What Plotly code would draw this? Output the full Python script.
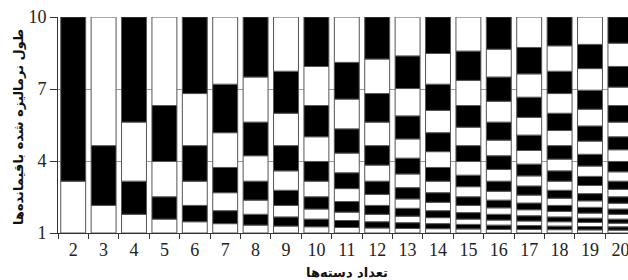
import plotly.graph_objects as go

clusters = ["2", "3", "4", "5", "6", "7", "8", "9", "10", "11", "12", "13", "14", "15", "16", "17", "18", "19", "20"]

# Segment boundaries (normalized residual length) for each cluster count
boundaries = {
    "2": [1, 3.16, 10],
    "3": [1, 2.15, 4.64, 10],
    "4": [1, 1.78, 3.16, 5.62, 10],
    "5": [1, 1.58, 2.51, 3.98, 6.31, 10],
    "6": [1, 1.47, 2.15, 3.16, 4.64, 6.81, 10],
    "7": [1, 1.39, 1.93, 2.68, 3.73, 5.18, 7.20, 10],
    "8": [1, 1.33, 1.78, 2.37, 3.16, 4.22, 5.62, 7.50, 10],
    "9": [1, 1.29, 1.67, 2.15, 2.78, 3.59, 4.64, 5.99, 7.74, 10],
    "10": [1, 1.26, 1.58, 2.00, 2.51, 3.16, 3.98, 5.01, 6.31, 7.94, 10],
    "11": [1, 1.23, 1.52, 1.87, 2.31, 2.85, 3.51, 4.33, 5.34, 6.58, 8.11, 10],
    "12": [1, 1.21, 1.47, 1.78, 2.15, 2.61, 3.16, 3.83, 4.64, 5.62, 6.81, 8.25, 10],
    "13": [1, 1.19, 1.43, 1.70, 2.03, 2.42, 2.89, 3.46, 4.12, 4.92, 5.88, 7.02, 8.38, 10],
    "14": [1, 1.18, 1.39, 1.64, 1.93, 2.28, 2.68, 3.16, 3.73, 4.39, 5.18, 6.11, 7.20, 8.48, 10],
    "15": [1, 1.17, 1.36, 1.58, 1.85, 2.15, 2.51, 2.93, 3.41, 3.98, 4.64, 5.41, 6.31, 7.36, 8.58, 10],
    "16": [1, 1.15, 1.33, 1.54, 1.78, 2.05, 2.37, 2.74, 3.16, 3.65, 4.22, 4.87, 5.62, 6.49, 7.50, 8.66, 10],
    "17": [1, 1.15, 1.31, 1.50, 1.72, 1.97, 2.25, 2.58, 2.96, 3.38, 3.87, 4.44, 5.08, 5.82, 6.66, 7.63, 8.73, 10],
    "18": [1, 1.14, 1.29, 1.47, 1.67, 1.90, 2.15, 2.45, 2.78, 3.16, 3.59, 4.08, 4.64, 5.27, 5.99, 6.81, 7.74, 8.80, 10],
    "19": [1, 1.13, 1.27, 1.44, 1.62, 1.83, 2.07, 2.34, 2.64, 2.98, 3.36, 3.79, 4.28, 4.83, 5.46, 6.16, 6.95, 7.85, 8.86, 10],
    "20": [1, 1.12, 1.26, 1.41, 1.58, 1.78, 2.00, 2.24, 2.51, 2.82, 3.16, 3.55, 3.98, 4.47, 5.01, 5.62, 6.31, 7.08, 7.94, 8.91, 10],
}

y_ticks = [1, 4, 7, 10]
x_title = "تعداد دسته‌ها"
y_title = "طول نرمالیزه شده باقیمانده‌ها"

fig = go.Figure()

max_segments = max(len(b) - 1 for b in boundaries.values())
for j in range(max_segments):
    xs, bases, lens = [], [], []
    for c in clusters:
        b = boundaries[c]
        if j < len(b) - 1:
            xs.append(c)
            bases.append(b[j])
            lens.append(b[j + 1] - b[j])
    fig.add_trace(go.Bar(
        x=xs, y=lens, base=bases, width=0.82,
        marker=dict(color="black" if j % 2 == 1 else "white",
                    line=dict(color="#555555", width=1)),
        showlegend=False, hoverinfo="skip",
    ))

tick_font = dict(family="Liberation Serif", size=18, color="#222")

fig.update_layout(
    width=628, height=280,
    barmode="overlay",
    plot_bgcolor="white", paper_bgcolor="white",
    margin=dict(l=58, r=0, t=17, b=47, autoexpand=False),
    font=dict(family="Liberation Serif", size=18, color="#222"),
    xaxis=dict(
        type="category", categoryorder="array", categoryarray=clusters,
        range=[-0.5, 18.25],
        tickson="boundaries", ticks="outside", ticklen=5, tickcolor="#333",
        showline=True, linecolor="#333", linewidth=1,
        showgrid=False, tickfont=tick_font,
    ),
    yaxis=dict(
        range=[1, 10], tickvals=y_ticks, ticks="outside", ticklen=7, tickcolor="#333",
        showline=True, linecolor="#333", linewidth=1,
        showgrid=True, gridcolor="#999", gridwidth=1,
        zeroline=False, tickfont=tick_font,
    ),
    annotations=[
        dict(text="<b>" + x_title + "</b>", xref="paper", yref="paper",
             x=(347 - 58) / 570, y=-(272 - 233) / 216, showarrow=False,
             xanchor="center", yanchor="middle",
             font=dict(family="DejaVu Sans", size=13, color="#111")),
        dict(text="<b>" + y_title + "</b>", xref="paper", yref="paper",
             x=-(58 - 18) / 570, y=(233 - 127) / 216, showarrow=False,
             xanchor="center", yanchor="middle", textangle=-90,
             font=dict(family="DejaVu Sans", size=13, color="#111")),
    ],
)

fig.write_html("out.html", config={"displayModeBar": False},
               post_script="document.body.style.margin='0';document.body.style.overflow='hidden';")
